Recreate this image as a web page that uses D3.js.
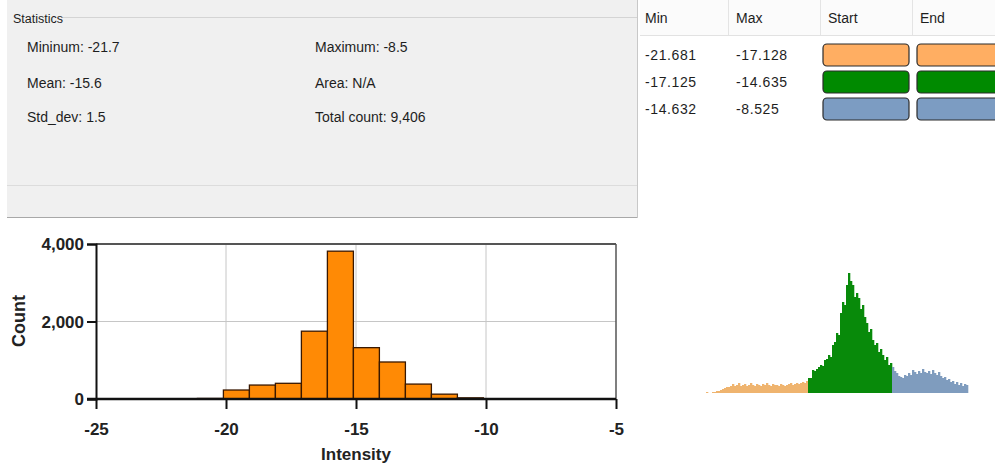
<!DOCTYPE html>
<html>
<head>
<meta charset="utf-8">
<script src="https://cdn.jsdelivr.net/npm/d3@7"></script>
<style>
  html, body { margin: 0; padding: 0; background: #fff; }
  svg { display: block; }
  .ui { font-family: "Liberation Sans", Arial, sans-serif; font-size: 14px; fill: #1e1e1e; }
  .num { letter-spacing: 0.6px; }
  .ax text { font-family: "Liberation Sans", Arial, sans-serif; font-weight: bold; font-size: 17px; fill: #222; }
</style>
</head>
<body>
<svg id="chart" width="995" height="466"></svg>
<script>
// ---- Statistics summary ----
const statsLeft = ["Mininum: -21.7", "Mean: -15.6", "Std_dev: 1.5"];
const statsRight = ["Maximum: -8.5", "Area: N/A", "Total count: 9,406"];

// ---- Colour classes ----
const classHeaders = ["Min", "Max", "Start", "End"];
const classMin = ["-21.681", "-17.125", "-14.632"];
const classMax = ["-17.128", "-14.635", "-8.525"];
const classColors = ["#FFAE62", "#008A00", "#7C9CC2"];
const miniColors = ["#EFB46F", "#088A0A", "#7F9CBE"];

// ---- Main histogram (bin width 1.0) ----
const binStarts = [-22.1, -21.1, -20.1, -19.1, -18.1, -17.1, -16.1, -15.1, -14.1, -13.1, -12.1, -11.1, -10.1, -9.1];
const binCounts = [6, 14, 232, 360, 405, 1750, 3815, 1325, 955, 385, 125, 30, 3, 1];
const xTicks = [-25, -20, -15, -10, -5];
const yTicks = [0, 2000, 4000];

// ---- Fine-grained histogram per colour class ----
const miniOrange = [1,0,0,1,1,2,2,3,4,5,6,6,7,9,7,8,10,7,8,9,7,8,10,8,7,9,8,7,9,8,10,8,7,9,8,8,7,9,8,7,8,9,10,8,9,10,9,10,11,10,12];
const miniGreen = [15,15,23,22,24,26,28,27,33,34,38,36,48,51,60,58,80,91,88,108,120,112,108,96,100,95,84,88,76,70,61,64,53,48,50,41,44,38,33,36,28,30];
const miniBlue = [26,22,20,17,16,15,18,17,20,18,23,21,19,22,20,24,21,20,22,19,23,20,18,21,17,15,16,13,14,11,12,9,11,8,10,7,9,8];

const svg = d3.select("#chart");

// ===== Statistics panel =====
const panel = svg.append("g");
panel.append("rect").attr("x", 7).attr("y", 0).attr("width", 631).attr("height", 218).attr("fill", "#f0f0f0");
panel.append("line").attr("x1", 62).attr("x2", 638).attr("y1", 17.5).attr("y2", 17.5).attr("stroke", "#d4d4d4");
panel.append("line").attr("x1", 7).attr("x2", 638).attr("y1", 185.5).attr("y2", 185.5).attr("stroke", "#dcdcdc");
panel.append("line").attr("x1", 7).attr("x2", 638).attr("y1", 217.5).attr("y2", 217.5).attr("stroke", "#a8a8a8");
panel.append("line").attr("x1", 637.5).attr("x2", 637.5).attr("y1", 0).attr("y2", 218).attr("stroke", "#c8c8c8");
panel.append("text").attr("class", "ui").attr("x", 13).attr("y", 23).style("font-size", "12.5px").text("Statistics");
const rowsY = [52, 88, 122];
panel.selectAll("text.l").data(statsLeft).join("text").attr("class", "ui l")
  .attr("x", 27).attr("y", (d, i) => rowsY[i]).text(d => d);
panel.selectAll("text.r").data(statsRight).join("text").attr("class", "ui r")
  .attr("x", 315).attr("y", (d, i) => rowsY[i]).text(d => d);

// ===== Class table =====
const table = svg.append("g");
const colX = [645, 736, 828, 920];
const sepX = [728, 820, 912];
table.append("rect").attr("x", 640).attr("y", 0).attr("width", 355).attr("height", 35).attr("fill", "#fbfbfb");
table.append("line").attr("x1", 640).attr("x2", 995).attr("y1", 35.5).attr("y2", 35.5).attr("stroke", "#e2e2e2");
table.selectAll("line.sep").data(sepX).join("line").attr("class", "sep")
  .attr("x1", d => d + 0.5).attr("x2", d => d + 0.5).attr("y1", 0).attr("y2", 35).attr("stroke", "#e4e4e4");
table.selectAll("text.h").data(classHeaders).join("text").attr("class", "ui h")
  .attr("x", (d, i) => colX[i]).attr("y", 23).text(d => d);
const rowY = [55, 82, 109];
table.selectAll("text.mn").data(classMin).join("text").attr("class", "ui num mn")
  .attr("x", colX[0]).attr("y", (d, i) => rowY[i] + 5).text(d => d);
table.selectAll("text.mx").data(classMax).join("text").attr("class", "ui num mx")
  .attr("x", colX[1]).attr("y", (d, i) => rowY[i] + 5).text(d => d);
[[823, 86], [917, 90]].forEach(([sx, sw]) => {
  table.selectAll(null).data(classColors).join("rect")
    .attr("x", sx).attr("y", (d, i) => rowY[i] - 11).attr("width", sw).attr("height", 22)
    .attr("rx", 4).attr("fill", d => d).attr("stroke", "#2b2b2b").attr("stroke-width", 1.2);
});

// ===== Main histogram =====
const x = d3.scaleLinear().domain([-25, -5]).range([96, 616]);
const y = d3.scaleLinear().domain([0, 4000]).range([399, 244]);

const g = svg.append("g");
// grid
g.selectAll("line.gx").data(xTicks.slice(1, -1)).join("line").attr("class", "gx")
  .attr("x1", d => x(d)).attr("x2", d => x(d)).attr("y1", y(4000)).attr("y2", y(0))
  .attr("stroke", "#c6c6c6");
g.selectAll("line.gy").data(yTicks.slice(1, -1)).join("line").attr("class", "gy")
  .attr("x1", x(-25)).attr("x2", x(-5)).attr("y1", d => y(d)).attr("y2", d => y(d))
  .attr("stroke", "#c6c6c6");
// frame top / right
g.append("line").attr("x1", x(-25)).attr("x2", x(-5)).attr("y1", y(4000)).attr("y2", y(4000))
  .attr("stroke", "#555").attr("stroke-width", 2);
g.append("line").attr("x1", x(-5)).attr("x2", x(-5)).attr("y1", y(4000)).attr("y2", y(0))
  .attr("stroke", "#555").attr("stroke-width", 1.5);

// bars
g.selectAll("rect.bar").data(binStarts).join("rect").attr("class", "bar")
  .attr("x", d => x(d)).attr("width", d => x(d + 1) - x(d))
  .attr("y", (d, i) => y(binCounts[i])).attr("height", (d, i) => y(0) - y(binCounts[i]))
  .attr("fill", "#FF8A05").attr("stroke", "#3a1800").attr("stroke-width", 1.3);

// axes
const xAxis = g.append("g").attr("class", "ax").attr("transform", `translate(0,${y(0)})`)
  .call(d3.axisBottom(x).tickValues(xTicks).tickFormat(d => String(d)).tickSize(10).tickPadding(11));
const yAxis = g.append("g").attr("class", "ax").attr("transform", `translate(${x(-25)},0)`)
  .call(d3.axisLeft(y).tickValues(yTicks).tickFormat(d3.format(",")).tickSize(9).tickPadding(3));
[xAxis, yAxis].forEach(a => {
  a.select(".domain").attr("stroke", "#111").attr("stroke-width", 2);
  a.selectAll(".tick line").attr("stroke", "#111").attr("stroke-width", 2);
});
xAxis.select(".domain").attr("d", `M${x(-25) - 9},0H${x(-5)}`).attr("stroke-width", 2.5);
xAxis.selectAll(".tick text").attr("dy", "0.9em");
yAxis.selectAll(".tick text").attr("dy", "0.35em");

g.append("text").attr("x", 356).attr("y", 460).attr("text-anchor", "middle")
  .style("font-family", "Liberation Sans, Arial, sans-serif").style("font-weight", "bold")
  .style("font-size", "17px").attr("fill", "#222").text("Intensity");
g.append("text").attr("transform", "translate(25,321) rotate(-90)").attr("text-anchor", "middle")
  .style("font-family", "Liberation Sans, Arial, sans-serif").style("font-weight", "bold")
  .style("font-size", "18px").attr("fill", "#222").text("Count");

// ===== Fine histogram coloured by class =====
const miniSets = [miniOrange, miniGreen, miniBlue];
const miniBins = miniSets.flatMap((arr, c) => arr.map(v => ({ c, v })));
const mx = d3.scaleLinear().domain([0, miniBins.length]).range([706, 968]);
const my = d3.scaleLinear().domain([0, d3.max(miniBins, d => d.v)]).range([393, 273]);
svg.append("g").selectAll("rect").data(miniBins).join("rect")
  .attr("x", (d, i) => mx(i)).attr("width", (d, i) => mx(i + 1) - mx(i) + 0.3)
  .attr("y", d => my(d.v)).attr("height", d => my(0) - my(d.v))
  .attr("fill", d => miniColors[d.c]);
</script>
</body>
</html>
